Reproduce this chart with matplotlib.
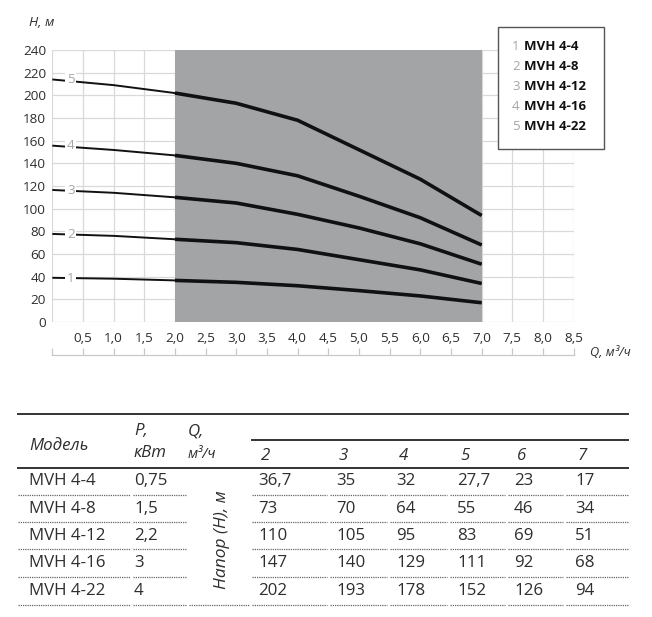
import matplotlib
matplotlib.use('Agg')
import matplotlib.pyplot as plt
from matplotlib.lines import Line2D
from matplotlib.patches import Rectangle

plt.rcParams['font.family'] = ['Open Sans', 'DejaVu Sans']

# ---------------- data ----------------
models = ['MVH 4-4', 'MVH 4-8', 'MVH 4-12', 'MVH 4-16', 'MVH 4-22']
curve_ids = ['1', '2', '3', '4', '5']
powers = ['0,75', '1,5', '2,2', '3', '4']
q_table = [2, 3, 4, 5, 6, 7]
head_4_4 = [36.7, 35, 32, 27.7, 23, 17]
head_4_8 = [73, 70, 64, 55, 46, 34]
head_4_12 = [110, 105, 95, 83, 69, 51]
head_4_16 = [147, 140, 129, 111, 92, 68]
head_4_22 = [202, 193, 178, 152, 126, 94]
heads = [head_4_4, head_4_8, head_4_12, head_4_16, head_4_22]
q_start = [0, 1]
start_4_4 = [39, 38.2]
start_4_8 = [77.7, 76]
start_4_12 = [116.5, 114]
start_4_16 = [155.6, 151.8]
start_4_22 = [214, 209]
starts = [start_4_4, start_4_8, start_4_12, start_4_16, start_4_22]
x_ticks = [0.5, 1.0, 1.5, 2.0, 2.5, 3.0, 3.5, 4.0, 4.5, 5.0, 5.5, 6.0, 6.5, 7.0, 7.5, 8.0, 8.5]
y_ticks = [0, 20, 40, 60, 80, 100, 120, 140, 160, 180, 200, 220, 240]
work_range = (2, 7)

W, H = 652, 617
fig = plt.figure(figsize=(W / 100, H / 100), dpi=100)

def fx(x):
    return x / W

def fy(y):
    return 1 - y / H

TXT = '#2e2e2e'
GRID = '#d9d9d9'

# ---------------- chart ----------------
ax = fig.add_axes([fx(52.3), fy(322), fx(573.6) - fx(52.3), fy(50) - fy(322)])
ax.set_xlim(0, 8.5)
ax.set_ylim(0, 240)
ax.axvspan(work_range[0], work_range[1], color='#a3a4a6', lw=0, zorder=1)
for t in [0] + x_ticks:
    ax.axvline(t, color=GRID, lw=0.9, zorder=0.5)
for t in y_ticks:
    ax.axhline(t, color=GRID, lw=0.9, zorder=0.5)
for s in ax.spines.values():
    s.set_visible(False)

ax.set_yticks(y_ticks)
ax.set_yticklabels([str(t) for t in y_ticks])
ax.set_xticks(x_ticks)
ax.set_xticklabels([f'{t:.1f}'.replace('.', ',') for t in x_ticks])
ax.tick_params(axis='both', length=0, labelsize=9.7, labelcolor=TXT)
ax.tick_params(axis='y', pad=4.5)
ax.tick_params(axis='x', pad=7)

for cid, st, hd in zip(curve_ids, starts, heads):
    qq = q_start + q_table
    hh = st + hd
    ax.plot(qq, hh, color='#111111', lw=1.4, zorder=3, solid_capstyle='butt', solid_joinstyle='round')
    ax.plot(q_table, hd, color='#111111', lw=2.6, zorder=3, solid_capstyle='butt', solid_joinstyle='round')
    ax.text(0.3, st[0] - 0.3, cid, color='#a5a5a5', fontsize=9.7, ha='center', va='center', zorder=4,
            bbox=dict(facecolor='white', edgecolor='none', pad=1.2))

sec = ax.secondary_xaxis(-33 / 272)
sec.set_xticks([0] + x_ticks)
sec.set_xticklabels([])
sec.tick_params(direction='in', length=5, color='#c8c8c8', width=0.9)
sec.spines['bottom'].set_color('#c8c8c8')
sec.spines['bottom'].set_linewidth(0.9)

fig.text(fx(29), fy(22), 'H, м', style='italic', fontsize=9.7, color=TXT, ha='left', va='center')
fig.text(fx(590), fy(352), 'Q, м³/ч', style='italic', fontsize=9.2, color=TXT, ha='left', va='center')

# legend box
fig.add_artist(Rectangle((fx(498), fy(149)), fx(604) - fx(498), fy(27) - fy(149),
                         transform=fig.transFigure, facecolor='white', edgecolor='#555555',
                         lw=1.0, zorder=5))
for i, (cid, m) in enumerate(zip(curve_ids, models)):
    yy = 46 + i * 20.2
    fig.text(fx(512), fy(yy), cid, color='#a5a5a5', fontsize=9.5, ha='left', va='center', zorder=6)
    fig.text(fx(524), fy(yy), m, color='#111111', fontsize=9.5, fontweight='bold',
             ha='left', va='center', zorder=6)

# ---------------- table ----------------
def hline(x0, x1, y, **kw):
    fig.add_artist(Line2D([fx(x0), fx(x1)], [fy(y), fy(y)], transform=fig.transFigure, **kw))

hline(18, 628, 414, color='#333333', lw=1.4)
hline(252, 628, 440, color='#333333', lw=1.4)
hline(18, 628, 468, color='#333333', lw=1.4)

TS = 12.2
fig.text(fx(29), fy(446), 'Модель', style='italic', fontsize=TS, color=TXT, ha='left', va='center')
fig.text(fx(134), fy(431), 'P,', style='italic', fontsize=TS, color=TXT, ha='left', va='center')
fig.text(fx(134), fy(453), 'кВт', style='italic', fontsize=TS, color=TXT, ha='left', va='center')
fig.text(fx(188), fy(431), 'Q,', style='italic', fontsize=TS, color=TXT, ha='left', va='center')
fig.text(fx(188), fy(454), 'м³/ч', style='italic', fontsize=10.5, color=TXT, ha='left', va='center')

col_x = [258, 336, 396, 457, 514, 575]
for q, cx in zip(q_table, col_x):
    fig.text(fx(cx + 3), fy(456), str(q), style='italic', fontsize=TS, color=TXT, ha='left', va='center')

row_y = [481, 509, 536, 563, 591]
sep_y = [495, 522, 549, 577, 605]
for r, (m, p) in enumerate(zip(models, powers)):
    fig.text(fx(29), fy(row_y[r]), m, fontsize=TS, color=TXT, ha='left', va='center')
    fig.text(fx(134), fy(row_y[r]), p, fontsize=TS, color=TXT, ha='left', va='center')
    for hd, cx in zip(heads[r], col_x):
        fig.text(fx(cx), fy(row_y[r]), f'{hd:g}'.replace('.', ','), fontsize=TS, color=TXT,
                 ha='left', va='center')

fig.text(fx(222), fy(540), 'Напор (H), м', style='italic', fontsize=12.5, color=TXT,
         rotation=90, ha='center', va='center')

seg_cols = [(18, 130), (133, 186), (252, 327), (330, 387), (390, 447), (450, 505), (508, 563), (566, 628)]
for i, y in enumerate(sep_y):
    segs = list(seg_cols)
    if i == len(sep_y) - 1:
        segs.append((189, 249))
    for x0, x1 in segs:
        hline(x0, x1, y, color='#666666', lw=0.9, linestyle=(0, (1, 0.8)))

fig.savefig('out.png', dpi=100)
